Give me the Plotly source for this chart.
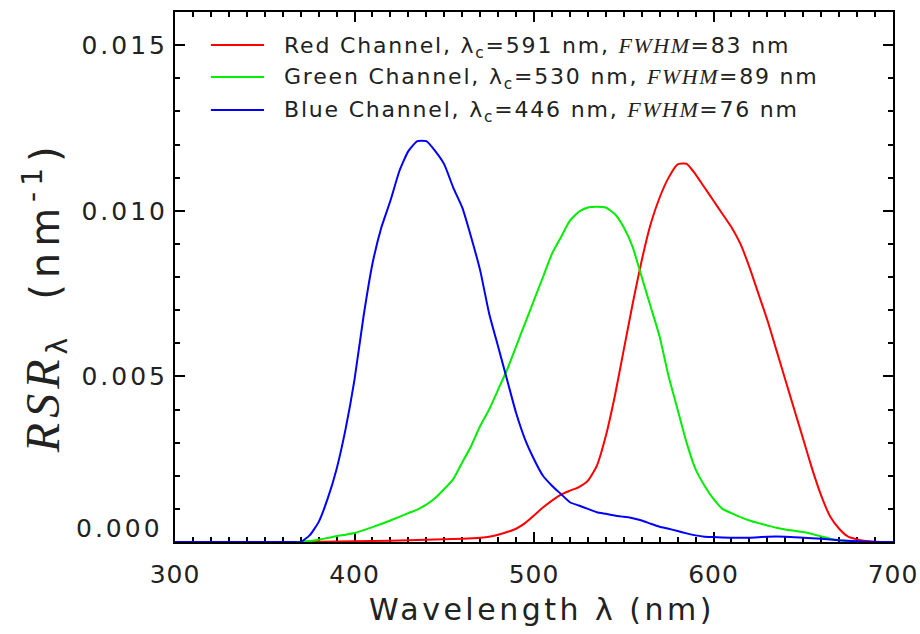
import plotly.graph_objects as go

wl_blue = [300, 365, 370, 375, 380, 385, 390, 395, 400, 405, 410, 415, 420, 425, 430, 435, 440, 445, 450, 455,
           460, 465, 470, 475, 480, 485, 490, 495, 500, 505, 510, 515, 520, 525, 530, 535, 540, 545, 550, 555,
           560, 565, 570, 575, 580, 585, 590, 595, 600, 610, 620, 630, 640, 650, 660, 670, 680, 690, 700]
rsr_blue = [0, 0, 0, 0.0002, 0.0006, 0.0013, 0.0022, 0.0034, 0.0049, 0.0068, 0.0084, 0.0095, 0.0103, 0.0112,
            0.0118, 0.0121, 0.0121, 0.0118, 0.0114, 0.0107, 0.0101, 0.0092, 0.0082, 0.0069, 0.0059, 0.0049,
            0.0039, 0.0031, 0.0025, 0.0020, 0.0017, 0.00145, 0.0012, 0.0011, 0.0010, 0.0009, 0.00085, 0.0008,
            0.00076, 0.00072, 0.00065, 0.00055, 0.00046, 0.0004, 0.00033, 0.00026, 0.0002, 0.00016, 0.00015,
            0.00013, 0.00013, 0.00016, 0.00016, 0.00013, 0.0001, 0.00005, 0.00002, 0, 0]

wl_green = [300, 370, 375, 380, 385, 390, 395, 400, 410, 420, 430, 435, 440, 445, 450, 455, 460, 465, 470, 475,
            480, 485, 490, 495, 500, 505, 510, 515, 520, 525, 530, 535, 540, 545, 550, 555, 560, 565, 570, 575,
            580, 585, 590, 595, 600, 605, 610, 615, 620, 625, 630, 635, 640, 645, 650, 655, 660, 665, 670, 675,
            680, 690, 700]
rsr_green = [0, 0, 0.00003, 0.00007, 0.00012, 0.00018, 0.00022, 0.00027, 0.00045, 0.00065, 0.00087, 0.00098,
             0.00113, 0.00133, 0.0016, 0.0019, 0.0024, 0.0029, 0.0035, 0.0040, 0.0046, 0.0052, 0.0059, 0.0066,
             0.0073, 0.0080, 0.0087, 0.0092, 0.0097, 0.00997, 0.0101, 0.01012, 0.0101, 0.0099, 0.0095, 0.0089,
             0.0080, 0.0071, 0.0062, 0.0050, 0.0040, 0.0030, 0.0022, 0.0017, 0.0013, 0.0010, 0.00087, 0.00075,
             0.00065, 0.00057, 0.0005, 0.00043, 0.00038, 0.00034, 0.0003, 0.00024, 0.00017, 0.0001, 0.00005,
             0.00002, 0, 0, 0]

wl_red = [300, 370, 380, 400, 420, 440, 460, 470, 475, 480, 485, 490, 495, 500, 505, 510, 515, 520, 525, 530,
          535, 540, 545, 550, 555, 560, 565, 570, 575, 580, 585, 590, 595, 600, 605, 610, 615, 620, 625, 630,
          635, 640, 645, 650, 655, 660, 665, 670, 675, 680, 685, 690, 700]
rsr_red = [0, 0, 0.00001, 0.00002, 0.00004, 0.00007, 0.0001, 0.00013, 0.00016, 0.00022, 0.0003, 0.0004, 0.00057,
           0.0008, 0.00104, 0.00125, 0.00143, 0.00155, 0.00166, 0.00185, 0.0023, 0.0032, 0.0044, 0.0058, 0.0072,
           0.0085, 0.0096, 0.0104, 0.0110, 0.01140, 0.01142, 0.0111, 0.0107, 0.0103, 0.0099, 0.0095, 0.0090,
           0.0083, 0.0075, 0.0067, 0.0058, 0.0049, 0.0040, 0.0031, 0.0022, 0.0014, 0.00077, 0.0004, 0.00016,
           0.00008, 0.00003, 0.00001, 0]

x_ticks = [300, 400, 500, 600, 700]
y_ticks = [0.000, 0.005, 0.010, 0.015]

SERIF = "font-family:'Liberation Serif', 'DejaVu Serif', serif"
LS = "letter-spacing:{}px"
names = [
    "Red Channel, λ<sub>c</sub>=591 nm, ",
    "Green Channel, λ<sub>c</sub>=530 nm, ",
    "Blue Channel, λ<sub>c</sub>=446 nm, ",
]
fwhm = ["83", "89", "76"]
colors = ["#ff0000", "#00ee00", "#0000ff"]
series = [(wl_red, rsr_red), (wl_green, rsr_green), (wl_blue, rsr_blue)]

TXT = "#222222"
FONT = "DejaVu Sans"

fig = go.Figure()
for (x, y), n, c in zip(series, names, colors):
    fig.add_trace(go.Scatter(x=x, y=y, mode="lines", name=n, showlegend=False, cliponaxis=False,
                             line=dict(color=c, width=2, shape="spline", smoothing=0.5)))

# manual legend (long sample lines as in the reference)
row_y = [0.9377, 0.8774, 0.8151]
for n, f, c, ry in zip(names, fwhm, colors, row_y):
    fig.add_shape(type="line", xref="paper", yref="paper", x0=0.050, x1=0.124, y0=ry, y1=ry,
                  line=dict(color=c, width=2))
    label = (f"<span style=\"{LS.format(1.8)}\">{n}</span>"
             f"<span style=\"{SERIF};{LS.format(1.5)}\"><i>FWHM</i></span>"
             f"<span style=\"{LS.format(1.8)}\">={f} nm</span>")
    fig.add_annotation(xref="paper", yref="paper", x=0.149, y=ry, xanchor="left", yanchor="middle",
                       yshift=-2, text=label, showarrow=False, font=dict(family=FONT, size=22, color=TXT))

axis_common = dict(
    showline=True, linecolor="black", linewidth=2, mirror="allticks",
    ticks="inside", ticklen=10, tickwidth=2, tickcolor="black",
    showgrid=False, zeroline=False, layer="below traces", automargin=False,
    tickfont=dict(family=FONT, size=25, color=TXT),
)
fig.update_xaxes(range=[300, 700], tickvals=x_ticks,
                 ticktext=[f"<span style=\"{LS.format(1)}\">{v}</span>" for v in x_ticks],
                 ticklabelstandoff=9,
                 minor=dict(dtick=10, tick0=300, ticks="inside", ticklen=5, tickwidth=1.5, tickcolor="black"),
                 **axis_common)
# the 0.000 label sits on top of the axis line in the reference, so it is drawn as an annotation
fig.update_yaxes(range=[0, 0.016], tickvals=y_ticks,
                 ticktext=[("" if v == 0 else f"<span style=\"{LS.format(3)}\">{v:.3f}</span>") for v in y_ticks],
                 minor=dict(dtick=0.001, tick0=0, ticks="inside", ticklen=5, tickwidth=1.5, tickcolor="black"),
                 **axis_common)
fig.add_annotation(xref="paper", yref="y", x=0, y=y_ticks[0], xanchor="right", yanchor="bottom",
                   xshift=-10, yshift=-3, showarrow=False,
                   text=f"<span style=\"{LS.format(3)}\">{y_ticks[0]:.3f}</span>",
                   font=dict(family=FONT, size=25, color=TXT))

# x-axis title
fig.add_annotation(xref="paper", yref="paper", x=0.511, y=-0.128, xanchor="center", yanchor="middle",
                   showarrow=False, text=f"<span style=\"{LS.format(3.5)}\">Wavelength λ (nm)</span>",
                   font=dict(family=FONT, size=30, color=TXT))

# y-axis title
fig.add_annotation(xref="paper", yref="paper", x=-0.181, y=0.462, xanchor="center", yanchor="middle",
                   textangle=-90, showarrow=False,
                   text=(f"<span style=\"{SERIF};font-size:48px;{LS.format(5)}\"><i>RSR</i></span>"
                         f"<sub>λ</sub>&nbsp;&nbsp;&nbsp;"
                         f"<span style=\"{LS.format(6)}\">(nm<sup>-1</sup>)</span>"),
                   font=dict(family=FONT, size=40, color=TXT))

fig.update_layout(
    width=920, height=634,
    margin=dict(l=175, r=27, t=12, b=92, autoexpand=False),
    plot_bgcolor="white", paper_bgcolor="white",
    showlegend=False,
)
fig.write_html("out.html", config={"displayModeBar": False},
               post_script=("document.documentElement.style.overflow='hidden';"
                            "document.body.style.margin='0';document.body.style.overflow='hidden';"))
